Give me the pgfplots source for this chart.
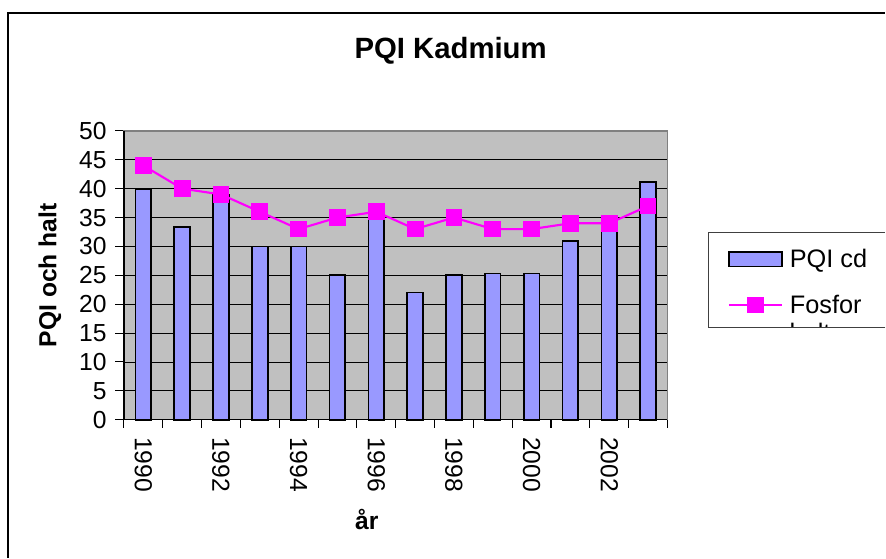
\documentclass[border=0pt]{standalone}
\usepackage{fontspec}
\setmainfont{Liberation Sans}
\usepackage{pgfplots}
\pgfplotsset{compat=1.18}
\definecolor{barblue}{HTML}{9999FF}
\definecolor{fosfor}{HTML}{FF00FF}
\definecolor{plotgray}{HTML}{C0C0C0}
\definecolor{framegray}{HTML}{808080}
\pgfplotsset{
  barlegend/.style={legend image code/.code={\draw[##1] (0pt,-5.5pt) rectangle (40pt,5.5pt);}},
  linelegend/.style={legend image code/.code={\draw[##1,mark repeat=2,mark phase=2] plot coordinates {(0pt,0pt) (20pt,0pt) (40pt,0pt)};}},
}

\begin{document}
\begin{tikzpicture}[x=0.75pt,y=0.75pt]
\path (0,0) rectangle (886,558);
% chart area border
\draw[line width=1pt] (8,0) -- (8,545) -- (886,545);

\begin{axis}[
  at={(93pt,103.5pt)}, anchor=south west,
  scale only axis, width=408pt, height=216.75pt,
  xmin=-0.5, xmax=13.5, ymin=0, ymax=50,
  ytick={0,5,...,50},
  xtick={0,2,...,12},
  xticklabels={1990,1992,1994,1996,1998,2000,2002},
  minor xtick={-0.5,0.5,...,13.5},
  major x tick style={draw=none},
  tick pos=left, tick align=outside,
  major tick length=6.5pt, minor tick length=6pt,
  tick style={black, line width=0.8pt},
  ymajorgrids, major grid style={black, line width=0.6pt},
  axis line style={framegray, line width=1pt},
  axis background/.style={fill=plotgray},
  /pgf/number format/assume math mode=true,
  tick label style={font=\fontsize{18.5}{20}\selectfont},
  xticklabel style={rotate=-90, anchor=west},
  xticklabel shift=3pt,
  yticklabel style={xshift=-3pt},
  title={PQI Kadmium},
  title style={font=\bfseries\fontsize{22}{24}\selectfont, at={(rel axis cs:0.601,1.25)}, anchor=center},
  ylabel={PQI och halt},
  every axis y label/.style={at={(rel axis cs:-0.136,0.5)}, rotate=90, anchor=center, font=\bfseries\fontsize{18.5}{20}\selectfont},
  xlabel={år},
  every axis x label/.style={at={(rel axis cs:0.447,-0.346)}, anchor=center, font=\bfseries\fontsize{18.5}{20}\selectfont},
  legend style={at={(rel axis cs:1.103,0.61)}, anchor=north west, draw=none, fill=none,
    font=\fontsize{19}{21}\selectfont, row sep=15pt, cells={anchor=west},
    /tikz/every odd column/.append style={column sep=3pt}},
  clip=false,
]
\addplot[ybar, bar shift=0pt, bar width=11.8pt, fill=barblue, draw=black, line width=1.3pt, barlegend]
  coordinates {(0,40) (1,33.3) (2,38.9) (3,30) (4,30) (5,25) (6,35.9)
               (7,22) (8,25) (9,25.3) (10,25.3) (11,30.9) (12,34) (13,41.1)};
\addlegendentry{PQI cd}
\addplot[fosfor, line width=1.6pt, mark=square*, mark size=5.5pt,
  mark options={fill=fosfor, draw=fosfor, solid}, linelegend]
  coordinates {(0,44) (1,40) (2,39) (3,36) (4,33) (5,35) (6,36)
               (7,33) (8,35) (9,33) (10,33) (11,34) (12,34) (13,37)};
\addlegendentry{Fosfor}
\draw[black, line width=1pt] (rel axis cs:0,1) -- (rel axis cs:0,0) -- (rel axis cs:1,0);
\end{axis}

% legend frame, clipped second line of the entry
\begin{scope}
\clip (709,230) rectangle (886,325);
\node[anchor=north west, inner sep=0pt, font=\fontsize{19}{21}\selectfont] at (790,235) {halt};
\end{scope}
\draw[black!75, line width=1pt] (886,230) -- (709,230) -- (709,325) -- (886,325);
\end{tikzpicture}
\end{document}
